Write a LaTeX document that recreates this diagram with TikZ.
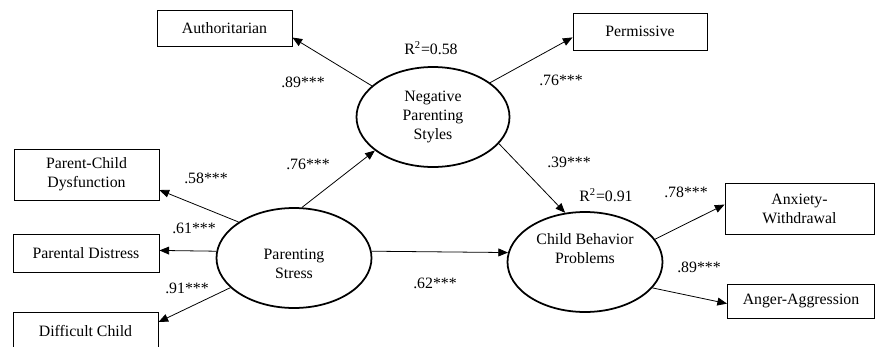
\documentclass[tikz,border=0pt]{standalone}
\usepackage{fontspec}
\setmainfont{Liberation Serif}
\usetikzlibrary{shapes.geometric,arrows.meta}
\tikzset{
  obs/.style={draw,line width=0.55pt,inner sep=0pt,align=center,font=\fontsize{9}{10.9}\selectfont},
  latent/.style={ellipse,draw,line width=1pt,inner sep=0pt,align=center,minimum width=3.1cm,minimum height=2cm,font=\fontsize{9}{10.9}\selectfont},
  coef/.style={inner sep=0pt,font=\fontsize{9}{10.9}\selectfont}
}

\begin{document}
\begin{tikzpicture}[>={Triangle[length=5.5pt,width=4.5pt]},line width=0.45pt]
\useasboundingbox (0,0) rectangle (17.52,6.92);
\node[latent,minimum width=3.06cm] (nps) at (8.66,4.58) {Negative\\Parenting\\Styles};
\node[latent] (ps) at (5.88,1.76) {};
\node[coef,align=center] (pstxt) at (5.88,1.64) {Parenting\\Stress};
\node[latent] (cbp) at (11.7,1.68) {};
\node[coef,align=center] (cbptxt) at (11.7,1.95) {Child Behavior\\Problems};
\node[obs,minimum width=2.7cm,minimum height=0.72cm] (auth) at (4.49,6.36) {Authoritarian};
\node[obs,minimum width=2.68cm,minimum height=0.74cm] (perm) at (12.8,6.29) {Permissive};
\node[obs,minimum width=2.9cm,minimum height=1.02cm] (pcd) at (1.73,3.43) {Parent-Child\\Dysfunction};
\node[obs,minimum width=2.92cm,minimum height=0.76cm] (pd) at (1.72,1.86) {Parental Distress};
\node[obs,minimum width=2.9cm,minimum height=0.76cm] (dc) at (1.71,0.30) {Difficult Child};
\node[obs,minimum width=2.98cm,minimum height=1.02cm] (aw) at (15.99,2.75) {Anxiety-\\Withdrawal};
\node[obs,minimum width=2.94cm,minimum height=0.68cm] (aa) at (16.02,0.90) {Anger-Aggression};
\draw[->] (nps.153) -- (auth.-8);
\draw[->] (nps.31) -- (perm.185);
\draw[->] (ps.81) -- (nps.210);
\draw[->] (nps.-22) -- (cbp.112);
\draw[->] (ps.5) -- (cbp.173);
\draw[->] (cbp.18) -- (aw.177);
\draw[->] (cbp.-21) -- (aa.182);
\draw[->] (ps.147) -- (pcd.-12);
\draw[->] (ps.175) -- (pd.2);
\draw[->] (ps.205) -- (dc.7);
\node[coef] (r1) at (8.62,5.96) {R\textsuperscript{2}=0.58};
\node[coef] (r2) at (12.12,3.02) {R\textsuperscript{2}=0.91};
\node[coef] (c1) at (6.06,5.28) {.89***};
\node[coef] (c2) at (11.22,5.32) {.76***};
\node[coef] (c3) at (11.38,3.68) {.39***};
\node[coef] (c4) at (6.16,3.64) {.76***};
\node[coef] (c5) at (4.12,3.36) {.58***};
\node[coef] (c6) at (3.88,2.36) {.61***};
\node[coef] (c7) at (3.74,1.16) {.91***};
\node[coef] (c8) at (8.70,1.26) {.62***};
\node[coef] (c9) at (13.72,3.08) {.78***};
\node[coef] (c10) at (13.98,1.58) {.89***};
\end{tikzpicture}
\end{document}
